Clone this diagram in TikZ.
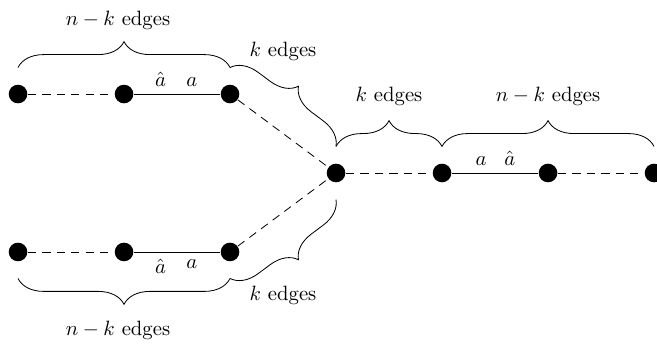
\documentclass[tikz,border=0pt]{standalone}
\usepackage{amsmath}
\usepackage{tikz}
\usetikzlibrary{positioning,calc,decorations.pathreplacing}

\begin{document}
\begin{tikzpicture}[
    x=1.8cm, y=1.8cm,
    dot/.style={circle, fill=black, inner sep=0pt, minimum size=9pt},
    dsh/.style={dash pattern=on 4pt off 3pt},
    br/.style={decorate, decoration={brace, amplitude=12.5pt}},
    brm/.style={decorate, decoration={brace, amplitude=12.5pt, mirror}},
]
    \useasboundingbox (-3.170,-1.623) rectangle (3.028,1.632);
    % vertices
    \node[dot] (t1) at (-3,0.745) {};
    \node[dot] (t2) at (-2,0.745) {};
    \node[dot] (t3) at (-1,0.745) {};
    \node[dot] (c) at (0,0) {};
    \node[dot] (r1) at (1,0) {};
    \node[dot] (r2) at (2,0) {};
    \node[dot] (r3) at (3,0) {};
    \node[dot] (b1) at (-3,-0.745) {};
    \node[dot] (b2) at (-2,-0.745) {};
    \node[dot] (b3) at (-1,-0.745) {};
    % edges
    \draw[dsh] (t1) -- (t2);
    \draw (t2) -- node[above, pos=0.31] (ht) {$\hat{a}$} node[above, pos=0.67] (at) {$a$} (t3);
    \draw[dsh] (t3) -- (c);
    \draw[dsh] (b1) -- (b2);
    \draw (b2) -- node[below, pos=0.31] (hb) {$\hat{a}$} node[below, pos=0.67] (ab) {$a$} (b3);
    \draw[dsh] (b3) -- (c);
    \draw[dsh] (c) -- (r1);
    \draw (r1) -- node[above, pos=0.34] (ar) {$a$} node[above, pos=0.67] (hr) {$\hat{a}$} (r2);
    \draw[dsh] (r2) -- (r3);
    % braces
    \draw[br] ($(t1)+(0,0.25)$) -- ($(t3)+(0,0.25)$);
    \draw[br] ($(t3)+(0,0.25)$) -- ($(c)+(0,0.25)$);
    \draw[br] ($(c)+(0,0.25)$) -- ($(r1)+(0,0.25)$);
    \draw[br] ($(r1)+(0,0.25)$) -- ($(r3)+(0,0.25)$);
    \draw[brm] ($(b1)-(0,0.25)$) -- ($(b3)-(0,0.25)$);
    \draw[brm] ($(b3)-(0,0.25)$) -- ($(c)-(0,0.25)$);
    % brace labels
    \node (l1) at (-2.057,1.443) {$n-k$ edges};
    \node (l2) at (-0.5,1.142) {$k$ edges};
    \node (l3) at (0.5,0.726) {$k$ edges};
    \node (l4) at (2.0,0.726) {$n-k$ edges};
    \node (l5) at (-0.5,-1.151) {$k$ edges};
    \node (l6) at (-2.057,-1.481) {$n-k$ edges};
\end{tikzpicture}
\end{document}
